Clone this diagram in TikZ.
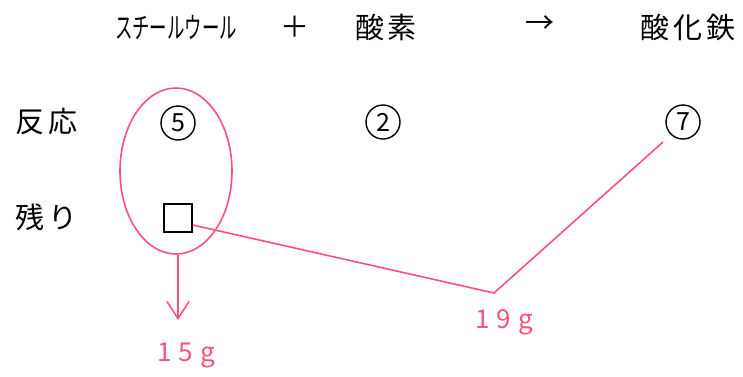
\documentclass[tikz,border=0pt]{standalone}
\usepackage{fontspec}
\setmainfont{Noto Sans CJK JP}
\usetikzlibrary{arrows.meta,shapes.geometric,calc}
\definecolor{pk}{RGB}{255,80,122}
\begin{document}
\begin{tikzpicture}[x=1pt,y=-1pt,
  lbl/.style={inner sep=0pt, font=\fontsize{29}{31}\selectfont},
  num/.style={circle, draw, line width=1.4pt, minimum size=34pt, inner sep=0pt, font=\fontsize{25}{27}\selectfont},
  pkline/.style={draw=pk, line width=1.6pt},
  pklbl/.style={inner sep=0pt, text=pk, font=\fontsize{26}{28}\selectfont}]
\useasboundingbox (0,0) rectangle (743,376);
\node[lbl] (t1) at (176,27) {\scalebox{0.6}[1]{スチールウール}};
\node[lbl] (plus) at (295,27) {＋};
\node[lbl] (t2) at (386,27) {酸\hspace{4pt}素};
\node[lbl] (arr) at (540,25) {→};
\node[lbl] (t3) at (688,27) {酸\hspace{4pt}化\hspace{4pt}鉄};
\node[lbl] (r1) at (47,122) {反\hspace{4pt}応};
\node[lbl] (r2) at (47,217) {残\hspace{4pt}り};
\node[num] (c5) at (178,123) {5};
\node[num] (c2) at (383,122) {2};
\node[num] (c7) at (683,122) {7};
\node[draw, line width=1.4pt, minimum size=28pt, inner sep=0pt] (sq) at (178,218) {};
\node[ellipse, draw=pk, line width=1.6pt, minimum width=112pt, minimum height=166pt, inner sep=0pt] (el) at (176,171) {};
\coordinate (a15) at (178,320);
\coordinate (v) at (494,293);
\coordinate (p7) at (663,142);
\coordinate (s0) at ($(sq.east)+(0,7)$);
\draw[pkline, -{Straight Barb[length=17pt,width=22pt,line width=1.6pt]}] (el.south -| a15) -- (a15);
\draw[pkline] (s0) -- (v) -- (p7);
\node[pklbl] (g15) at (186,355) {1\hspace{7pt}5\hspace{7pt}g};
\node[pklbl] (g19) at (504,322) {1\hspace{7pt}9\hspace{7pt}g};
\end{tikzpicture}
\end{document}
